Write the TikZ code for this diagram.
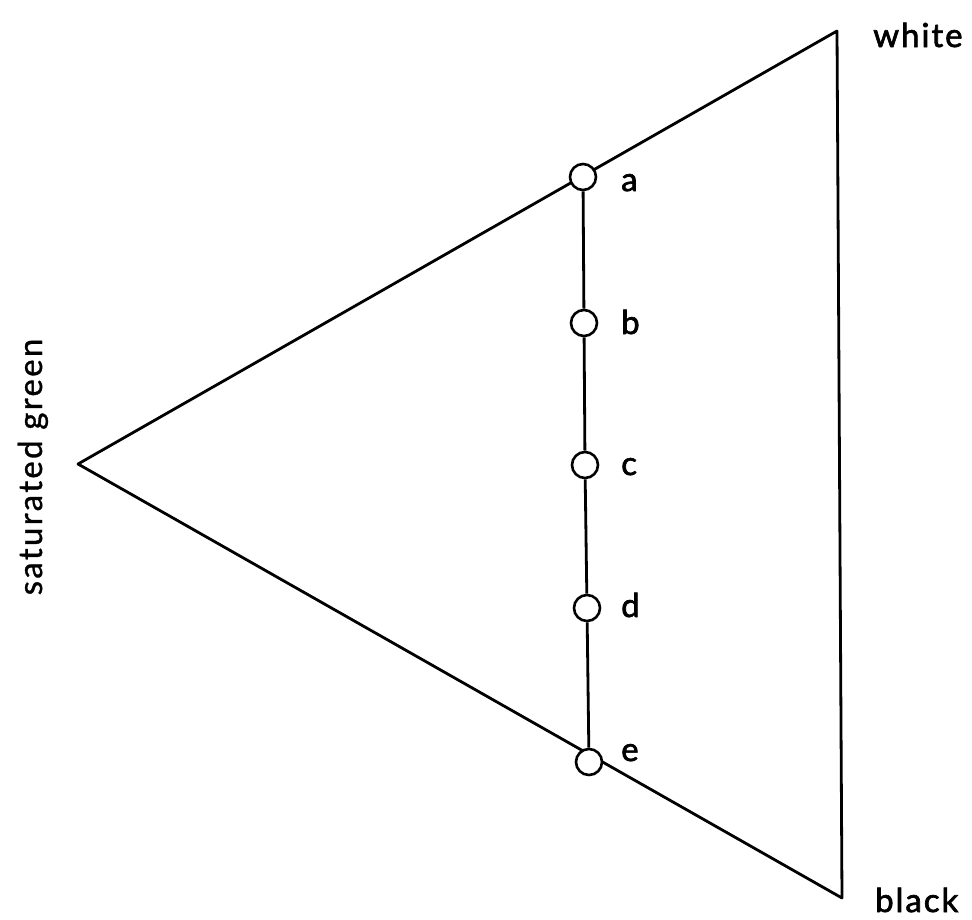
\documentclass[tikz,border=0pt]{standalone}
\usepackage{fontspec}
\setmainfont{Lato}[LetterSpace=7,FakeBold=1]
\newfontfamily\labelfont{Lato}[LetterSpace=6,FakeBold=2]
\begin{document}
\begin{tikzpicture}[x=1pt,y=-1pt,
  edge/.style={line width=2.8pt, line join=round},
  pt/.style={circle, draw, line width=2.6pt, fill=white, minimum size=26pt, inner sep=0pt},
  lbl/.style={font=\labelfont\fontsize{33}{40}\selectfont, inner sep=0pt, anchor=base west}]
\useasboundingbox (0,0) rectangle (972,919);
% corners of the triangle
\coordinate (W) at (837,31);
\coordinate (K) at (842,898);
\coordinate (G) at (78,464);
\draw[edge] (G) -- (W) -- (K) -- cycle;
% points on the line
\node[pt] (a) at (583,177) {};
\node[pt] (b) at (584,323) {};
\node[pt] (c) at (585,465) {};
\node[pt] (d) at (587,608) {};
\node[pt] (e) at (589,762) {};
\draw[edge] (a) -- (b) (b) -- (c) (c) -- (d) (d) -- (e);
\node[lbl] (la) at (621,191) {a};
\node[lbl] (lb) at (621,334) {b};
\node[lbl] (lc) at (621,475) {c};
\node[lbl] (ld) at (621,617) {d};
\node[lbl] (le) at (621,761) {e};
\node[lbl] (lw) at (873,47) {white};
\node[lbl] (lk) at (875,912) {black};
\node[font=\fontsize{33}{40}\selectfont, inner sep=0pt, anchor=base, rotate=90] (lg) at (42,467) {saturated green};
\end{tikzpicture}
\end{document}
